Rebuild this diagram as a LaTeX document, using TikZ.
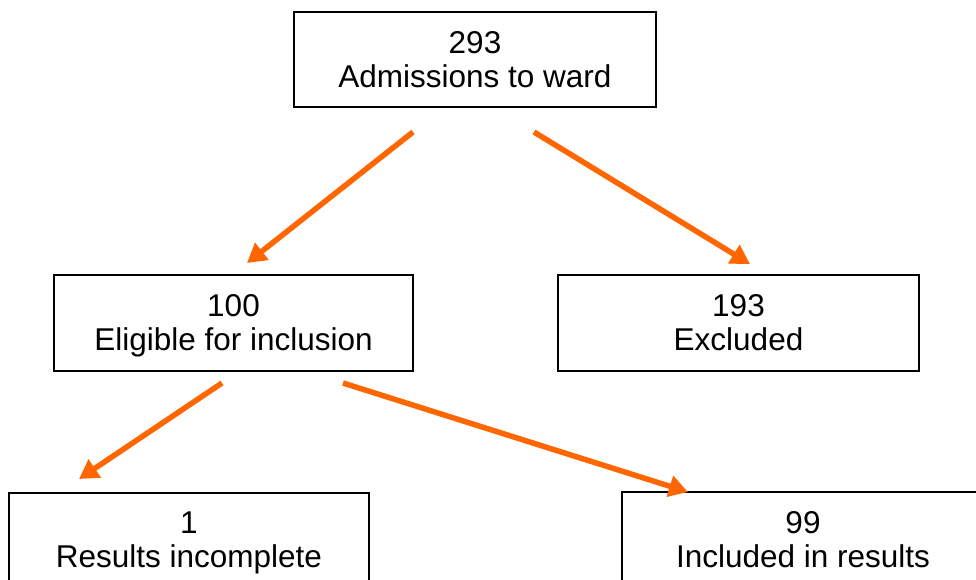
\documentclass[tikz,border=0pt]{standalone}
\usepackage{fontspec}
\setmainfont{Liberation Sans}
\usetikzlibrary{arrows.meta}
\definecolor{flow}{HTML}{FF6600}
% two centred lines with the same vertical extent whatever the letters
\newcommand{\countlabel}[2]{#1\\\smash{#2}\rule[-1pt]{0pt}{24pt}}
\tikzset{
  box/.style={draw=black, line width=1.5pt, fill=white, align=center,
    inner sep=0pt, font=\fontsize{31.5}{34}\selectfont},
  flowarrow/.style={draw=flow, line width=5.5pt,
    -{Triangle[length=19pt,width=21pt]}}
}
\begin{document}
\begin{tikzpicture}[x=1pt,y=-1pt]
  \useasboundingbox (0,0) rectangle (976,579);
  \clip (0,0) rectangle (976,579);
  \fill[white] (0,0) rectangle (976,579);

  % boxes of the flow chart
  \node[box, minimum width=362pt, minimum height=95pt] (adm) at (475,59.5)
    {\countlabel{293}{Admissions to ward}};
  \node[box, minimum width=359pt, minimum height=96pt] (elig) at (233.5,323)
    {\countlabel{100}{Eligible for inclusion}};
  \node[box, minimum width=361pt, minimum height=96pt] (excl) at (738.5,323)
    {\countlabel{193}{Excluded}};
  \node[box, minimum width=360pt, minimum height=95pt] (incomp) at (189,540.5)
    {\countlabel{1}{Results incomplete}};
  \node[box, minimum width=362pt, minimum height=95pt] (incl) at (803,539.5)
    {\countlabel{99}{Included in results}};

  % free ends of the arrows, set off from the boxes
  \coordinate (admL) at (413,132);
  \coordinate (admR) at (534,132);
  \coordinate (eligIn) at (247,263);
  \coordinate (exclIn) at (750,264);
  \coordinate (eligL) at (222,383);
  \coordinate (eligR) at (343,383);
  \coordinate (incompIn) at (79,479);
  \coordinate (inclIn) at (688,492);

  \draw[flowarrow] (admL) -- (eligIn);
  \draw[flowarrow] (admR) -- (exclIn);
  \draw[flowarrow] (eligL) -- (incompIn);
  \draw[flowarrow] (eligR) -- (inclIn);
\end{tikzpicture}
\end{document}
